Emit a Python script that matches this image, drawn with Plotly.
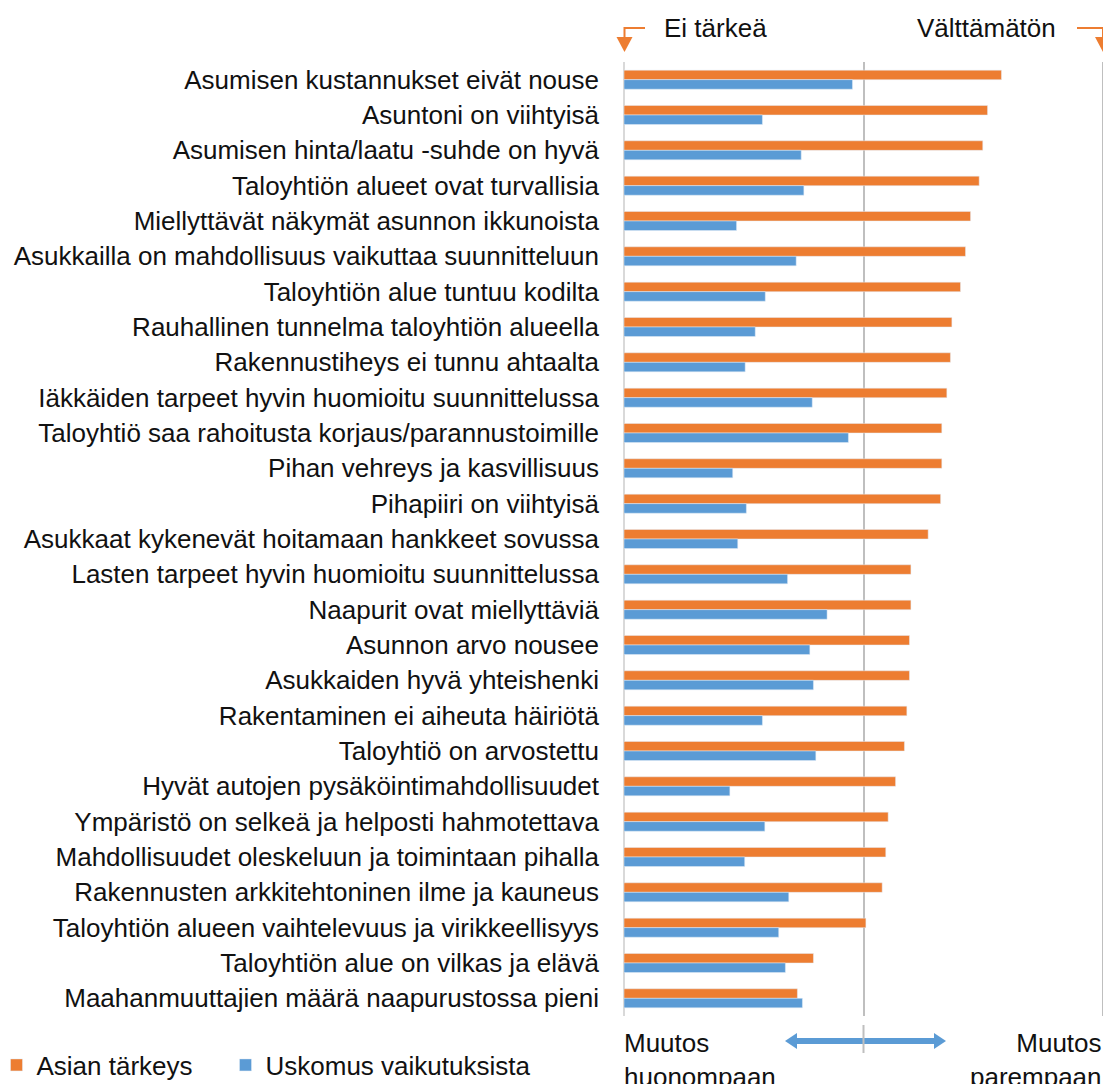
import plotly.graph_objects as go

# Kategoriat ylhäältä alas
categories = [
    "Asumisen kustannukset eivät nouse",
    "Asuntoni on viihtyisä",
    "Asumisen hinta/laatu -suhde on hyvä",
    "Taloyhtiön alueet ovat turvallisia",
    "Miellyttävät näkymät asunnon ikkunoista",
    "Asukkailla on mahdollisuus vaikuttaa suunnitteluun",
    "Taloyhtiön alue tuntuu kodilta",
    "Rauhallinen tunnelma taloyhtiön alueella",
    "Rakennustiheys ei tunnu ahtaalta",
    "Iäkkäiden tarpeet hyvin huomioitu suunnittelussa",
    "Taloyhtiö saa rahoitusta korjaus/parannustoimille",
    "Pihan vehreys ja kasvillisuus",
    "Pihapiiri on viihtyisä",
    "Asukkaat kykenevät hoitamaan hankkeet sovussa",
    "Lasten tarpeet hyvin huomioitu suunnittelussa",
    "Naapurit ovat miellyttäviä",
    "Asunnon arvo nousee",
    "Asukkaiden hyvä yhteishenki",
    "Rakentaminen ei aiheuta häiriötä",
    "Taloyhtiö on arvostettu",
    "Hyvät autojen pysäköintimahdollisuudet",
    "Ympäristö on selkeä ja helposti hahmotettava",
    "Mahdollisuudet oleskeluun ja toimintaan pihalla",
    "Rakennusten arkkitehtoninen ilme ja kauneus",
    "Taloyhtiön alueen vaihtelevuus ja virikkeellisyys",
    "Taloyhtiön alue on vilkas ja elävä",
    "Maahanmuuttajien määrä naapurustossa pieni",
]

importance = [1.576, 1.518, 1.498, 1.483, 1.447, 1.426, 1.405, 1.369, 1.363,
              1.348, 1.327, 1.327, 1.322, 1.270, 1.198, 1.198, 1.192, 1.192,
              1.181, 1.171, 1.134, 1.103, 1.093, 1.078, 1.010, 0.791, 0.724]

belief = [0.954, 0.578, 0.740, 0.751, 0.470, 0.719, 0.590, 0.548, 0.506,
          0.786, 0.937, 0.454, 0.511, 0.475, 0.683, 0.848, 0.776, 0.791,
          0.578, 0.801, 0.442, 0.588, 0.504, 0.688, 0.646, 0.674, 0.745]

series_names = ["Asian tärkeys", "Uskomus vaikutuksista"]

ORANGE = "#ED7D31"
BLUE = "#5B9BD5"
GRID = "#BFBFBF"
FONT = "Liberation Sans, Arial, sans-serif"

# sivun oletusmarginaali (body 8px) huomioitu
OFF = 8
W, H = 1111 - OFF, 1084 - OFF
L, R, T, B = 616, 8, 54, 68
PW, PH = W - L - R, H - T - B


def px2x(px):
    # sivun pikseli -> paper-koordinaatti
    return (px - OFF - L) / PW


def px2y(py):
    return (H - B - (py - OFF)) / PH


fig = go.Figure()
fig.add_trace(go.Bar(y=categories, x=importance, name=series_names[0],
                     orientation="h", marker_color=ORANGE, legend="legend"))
fig.add_trace(go.Bar(y=categories, x=belief, name=series_names[1],
                     orientation="h", marker_color=BLUE, legend="legend2"))

shapes = []
# oikean reunan pystyviiva (x = 2)
shapes.append(dict(type="line", xref="paper", yref="paper", x0=1, x1=1, y0=0, y1=1,
                   line=dict(color=GRID, width=2), layer="below"))
# oranssit kulmanuolet ylhäällä
for x0, x1 in [(645, 624.5), (1077, 1103)]:
    shapes.append(dict(type="path", xref="paper", yref="paper",
                       path=f"M{px2x(x0)},{px2y(28)} L{px2x(x1)},{px2y(28)} L{px2x(x1)},{px2y(40)}",
                       line=dict(color=ORANGE, width=2)))
    shapes.append(dict(type="path", xref="paper", yref="paper",
                       path=f"M{px2x(x1 - 8)},{px2y(37)} L{px2x(x1 + 8)},{px2y(37)} L{px2x(x1)},{px2y(52)} Z",
                       fillcolor=ORANGE, line=dict(width=0)))
# sininen kaksipäinen nuoli alhaalla
ya, yb, yc, yd, ye = 1033, 1038, 1041, 1044, 1049
arrow = (f"M{px2x(785)},{px2y(yc)} L{px2x(797)},{px2y(ya)} L{px2x(797)},{px2y(yb)} "
         f"L{px2x(934)},{px2y(yb)} L{px2x(934)},{px2y(ya)} L{px2x(946)},{px2y(yc)} "
         f"L{px2x(934)},{px2y(ye)} L{px2x(934)},{px2y(yd)} L{px2x(797)},{px2y(yd)} "
         f"L{px2x(797)},{px2y(ye)} Z")
shapes.append(dict(type="path", xref="paper", yref="paper", path=arrow,
                   fillcolor=BLUE, line=dict(width=0)))
shapes.append(dict(type="line", xref="paper", yref="paper",
                   x0=0.5, x1=0.5, y0=px2y(1025), y1=px2y(1053),
                   line=dict(color=GRID, width=2)))

txt = dict(family=FONT, size=26, color="#111111")
annotations = [
    dict(text="Ei tärkeä", xref="paper", yref="paper", x=px2x(662), y=px2y(28),
         xanchor="left", yanchor="middle", showarrow=False, font=txt),
    dict(text="Välttämätön", xref="paper", yref="paper", x=px2x(915), y=px2y(28),
         xanchor="left", yanchor="middle", showarrow=False, font=txt),
    dict(text="Muutos<br>huonompaan", xref="paper", yref="paper", x=px2x(622), y=px2y(1026),
         xanchor="left", yanchor="top", align="left", showarrow=False, font=txt),
    dict(text="Muutos<br>parempaan", xref="paper", yref="paper", x=px2x(1104), y=px2y(1026),
         xanchor="right", yanchor="top", align="right", showarrow=False, font=txt),
]

leg_y = px2y(1065)
fig.update_layout(
    width=W, height=H,
    margin=dict(l=L, r=R, t=T, b=B, pad=0, autoexpand=False),
    plot_bgcolor="white", paper_bgcolor="white",
    barmode="group", bargap=0.46, bargroupgap=0,
    font=txt,
    shapes=shapes,
    annotations=annotations,
    showlegend=True,
    legend=dict(x=px2x(16 - 19.5), y=leg_y,
                xanchor="left", yanchor="middle", font=txt, itemwidth=30),
    legend2=dict(x=px2x(245 - 19.5), y=leg_y,
                 xanchor="left", yanchor="middle", font=txt, itemwidth=30),
)
fig.update_xaxes(range=[0, 2], dtick=1, showticklabels=False,
                 showgrid=True, gridcolor=GRID, gridwidth=2,
                 zeroline=True, zerolinecolor="#D9D9D9", zerolinewidth=2,
                 showline=False, fixedrange=True)
fig.update_yaxes(autorange="reversed", showgrid=False, zeroline=False,
                 ticks="", ticklabelstandoff=24, tickfont=txt, fixedrange=True)

fig.write_html("out.html")
